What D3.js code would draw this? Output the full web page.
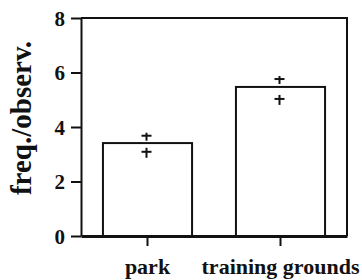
<!DOCTYPE html>
<html>
<head>
<meta charset="utf-8">
<script src="https://cdn.jsdelivr.net/npm/d3@7"></script>
<style>
  body { margin: 0; background: #fff; }
  svg text { font-family: "Liberation Serif", "Times New Roman", serif !important; font-weight: bold; fill: #111; }
</style>
</head>
<body>
<div id="chart"></div>
<script>
// data
var categories = ["park", "training grounds"];
var means = [3.41, 5.47];
var upper = [3.68, 5.76];
var lower = [3.09, 5.03];
var yTicks = [0, 2, 4, 6, 8];

var width = 362, height = 280;
var margin = {top: 18, right: 15, bottom: 44, left: 81};

var svg = d3.select("#chart").append("svg")
    .attr("width", width)
    .attr("height", height);

var x = d3.scaleBand()
    .domain(categories)
    .range([margin.left, width - margin.right])
    .paddingInner(0.33)
    .paddingOuter(0.165);

var y = d3.scaleLinear()
    .domain([0, 8])
    .range([height - margin.bottom, margin.top]);

var ink = "#111";

// frame: top and right sides
svg.append("path")
    .attr("d", "M" + margin.left + "," + y(8) + "H" + (width - margin.right) + "V" + y(0))
    .attr("fill", "none")
    .attr("stroke", ink)
    .attr("stroke-width", 2);

// bars
svg.selectAll("rect.bar")
    .data(categories)
    .enter().append("rect")
    .attr("class", "bar")
    .attr("x", function(d) { return x(d); })
    .attr("width", x.bandwidth())
    .attr("y", function(d, i) { return y(means[i]); })
    .attr("height", function(d, i) { return y(0) - y(means[i]); })
    .attr("fill", "#fff")
    .attr("stroke", ink)
    .attr("stroke-width", 2);

// error marks, split by the bar top
var marks = svg.selectAll("g.err")
    .data(categories)
    .enter().append("g")
    .attr("class", "err")
    .attr("transform", function(d) { return "translate(" + (x(d) + x.bandwidth() / 2 - 1) + ",0)"; })
    .attr("stroke", ink)
    .attr("stroke-width", 2);

marks.append("line")
    .attr("x1", -5).attr("x2", 5)
    .attr("y1", function(d, i) { return y(upper[i]); })
    .attr("y2", function(d, i) { return y(upper[i]); });
marks.append("line")
    .attr("x1", 0).attr("x2", 0)
    .attr("y1", function(d, i) { return y(upper[i]) - 3; })
    .attr("y2", function(d, i) { return y(upper[i]) + 5; });
marks.append("line")
    .attr("x1", -5).attr("x2", 5)
    .attr("y1", function(d, i) { return y(lower[i]); })
    .attr("y2", function(d, i) { return y(lower[i]); });
marks.append("line")
    .attr("x1", 0).attr("x2", 0)
    .attr("y1", function(d, i) { return y(lower[i]) - 4; })
    .attr("y2", function(d, i) { return y(lower[i]) + 6; });

// y axis
var yAxis = svg.append("g")
    .attr("transform", "translate(" + margin.left + ",0)")
    .call(d3.axisLeft(y).tickValues(yTicks).tickSize(10).tickPadding(6).tickSizeOuter(0));
yAxis.select(".domain").attr("stroke", ink).attr("stroke-width", 2);
yAxis.selectAll(".tick line").attr("stroke", ink).attr("stroke-width", 2);
yAxis.selectAll(".tick text")
    .style("font-size", "21px")
    .attr("dy", "0.34em");

// x axis
var xAxis = svg.append("g")
    .attr("transform", "translate(0," + y(0) + ")")
    .call(d3.axisBottom(x).tickSize(10).tickPadding(12).tickSizeOuter(0));
xAxis.select(".domain").attr("stroke", ink).attr("stroke-width", 3);
xAxis.selectAll(".tick line").attr("stroke", ink).attr("stroke-width", 2);
xAxis.selectAll(".tick text")
    .style("font-size", "22px");

// y label
svg.append("text")
    .attr("transform", "translate(31,118) rotate(-90)")
    .attr("text-anchor", "middle")
    .style("font-size", "29px")
    .text("freq./observ.");
</script>
</body>
</html>
